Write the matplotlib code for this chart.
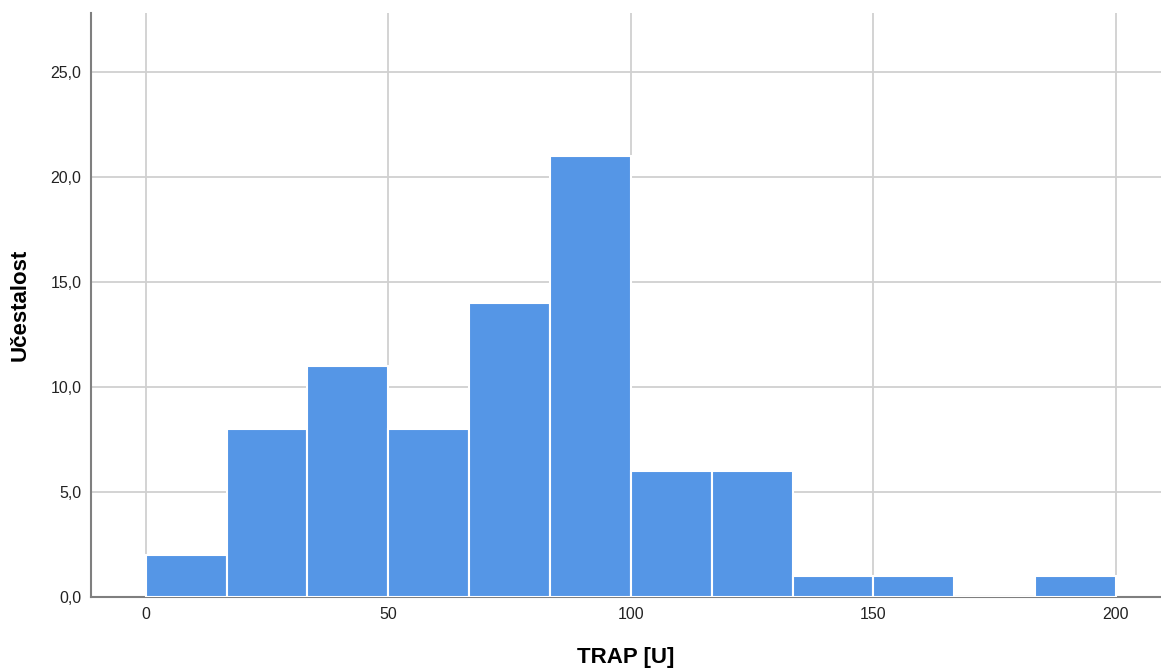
import matplotlib.pyplot as plt
from matplotlib.ticker import FuncFormatter

# histogram bins of TRAP [U] (width 200/12) and their counts
bin_edges = [0, 16.67, 33.33, 50, 66.67, 83.33, 100, 116.67, 133.33, 150, 166.67, 183.33, 200]
counts = [2, 8, 11, 8, 14, 21, 6, 6, 1, 1, 0, 1]

x_ticks = [0, 50, 100, 150, 200]
y_ticks = [0, 5, 10, 15, 20, 25]

plt.rcParams["font.family"] = ["Liberation Sans", "DejaVu Sans"]

fig = plt.figure(figsize=(11.61, 6.69), dpi=100)
ax = fig.add_axes([0.0784, 0.1076, 0.9216, 0.873])

lefts = bin_edges[:-1]
widths = [b - a for a, b in zip(bin_edges[:-1], bin_edges[1:])]
ax.bar(lefts, counts, width=widths, align="edge", color="#5596e6",
       edgecolor="white", linewidth=1.5, zorder=3)

ax.set_xlim(-11.3, 209.3)
ax.set_ylim(0, 27.8)
ax.set_xticks(x_ticks)
ax.set_yticks(y_ticks)
ax.yaxis.set_major_formatter(FuncFormatter(lambda v, p: f"{v:.1f}".replace(".", ",")))

ax.grid(True, color="#d0d0d0", linewidth=1.3, zorder=0)
ax.set_axisbelow(True)
for side in ["top", "right"]:
    ax.spines[side].set_visible(False)
for side in ["left", "bottom"]:
    ax.spines[side].set_color("#7f7f7f")
    ax.spines[side].set_linewidth(1.5)

ax.tick_params(length=0, labelsize=11.5, colors="#222222", pad=7)
ax.set_xlabel("TRAP [U]", fontsize=16, fontweight="bold", labelpad=18)
ax.set_ylabel("Učestalost", fontsize=16, fontweight="bold", labelpad=14)

fig.savefig("out.png", dpi=100)
